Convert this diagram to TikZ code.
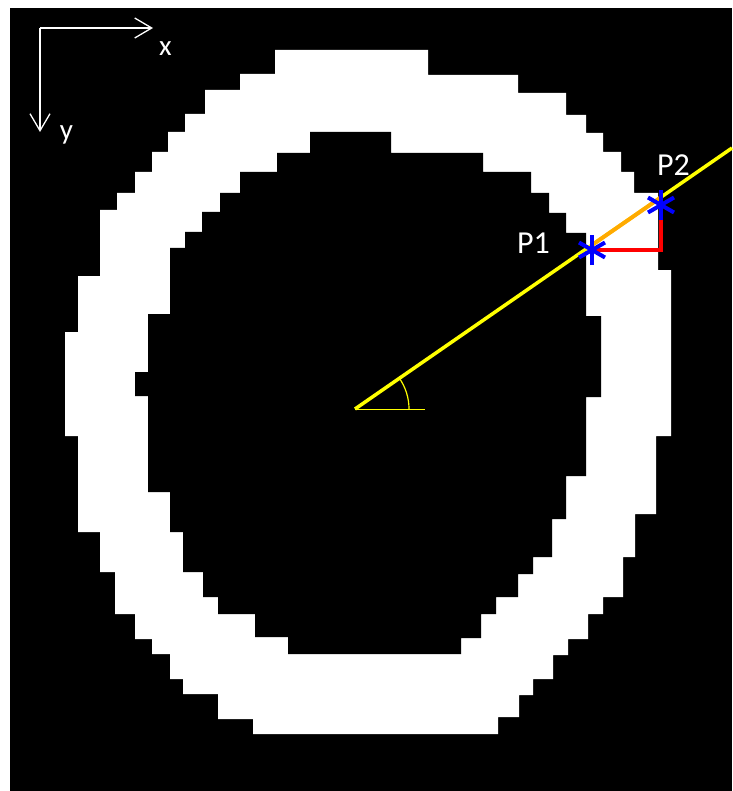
\documentclass[tikz,border=0pt]{standalone}
\usepackage{fontspec}
\setmainfont{Carlito}
\usetikzlibrary{arrows.meta,calc}
\definecolor{ptblue}{RGB}{0,0,255}
\definecolor{rayorange}{RGB}{255,170,0}
\definecolor{rayyellow}{RGB}{255,255,0}
\begin{document}
\begin{tikzpicture}[x=1pt,y=-1pt,
    lbl/.style={text=white,font=\fontsize{32}{38}\selectfont,inner sep=0pt,anchor=base},
    axlbl/.style={lbl,font=\fontsize{29}{34}\selectfont},
    axisline/.style={white,line width=1.3pt,-{Straight Barb[length=17pt,width=20pt,line width=1.3pt]}},
    starline/.style={ptblue,line width=4pt},
    ray/.style={rayyellow,line width=3.5pt},
  ]
    % 背景
    \useasboundingbox (0,0) rectangle (732,791);
    \fill[white] (0,0) rectangle (732,791);
    \fill[black] (10,8) rectangle (732,791);

    % 圆环 外边界
    \fill[white] (275,50) -- (428,50) -- (428,75) -- (518,75) -- (518,93) -- (566,93)
        -- (566,115) -- (586,115) -- (586,133) -- (603,133) -- (603,152) -- (621,152)
        -- (621,172) -- (634,172) -- (634,193) -- (658,193) -- (658,270) -- (671,270)
        -- (671,436) -- (656,436) -- (656,514) -- (635,514) -- (635,557) -- (623,557)
        -- (623,597) -- (603,597) -- (603,614) -- (588,614) -- (588,639) -- (568,639)
        -- (568,655) -- (553,655) -- (553,679) -- (533,679) -- (533,695) -- (519,695)
        -- (519,717) -- (498,717) -- (498,734) -- (253,734) -- (253,719) -- (218,719)
        -- (218,694) -- (183,694) -- (183,679) -- (170,679) -- (170,654) -- (152,654)
        -- (152,639) -- (135,639) -- (135,614) -- (115,614) -- (115,572) -- (100,572)
        -- (100,532) -- (78,532) -- (78,436) -- (65,436) -- (65,332) -- (78,332)
        -- (78,276) -- (100,276) -- (100,210) -- (117,210) -- (117,193) -- (135,193)
        -- (135,172) -- (152,172) -- (152,152) -- (168,152) -- (168,132) -- (185,132)
        -- (185,114) -- (205,114) -- (205,90) -- (240,90) -- (240,74) -- (275,74) -- cycle;

    % 圆环 内边界
    \fill[black] (310,132) -- (391,132) -- (391,153) -- (483,153) -- (483,172) -- (531,172)
        -- (531,193) -- (549,193) -- (549,213) -- (566,213) -- (566,233) -- (586,233)
        -- (586,316) -- (601,316) -- (601,397) -- (586,397) -- (586,476) -- (566,476)
        -- (566,519) -- (552,519) -- (552,557) -- (533,557) -- (533,574) -- (518,574)
        -- (518,597) -- (496,597) -- (496,614) -- (481,614) -- (481,638) -- (461,638)
        -- (461,654) -- (288,654) -- (288,637) -- (255,637) -- (255,614) -- (218,614)
        -- (218,597) -- (203,597) -- (203,572) -- (183,572) -- (183,532) -- (170,532)
        -- (170,492) -- (148,492) -- (148,396) -- (135,396) -- (135,372) -- (148,372)
        -- (148,314) -- (170,314) -- (170,248) -- (185,248) -- (185,232) -- (202,232)
        -- (202,212) -- (220,212) -- (220,193) -- (240,193) -- (240,172) -- (277,172)
        -- (277,153) -- (310,153) -- cycle;

    % 坐标方向
    \coordinate (o) at (40,28);
    \coordinate (xend) at (153,28);
    \coordinate (yend) at (40,132);
    \draw[axisline] (o) -- (xend);
    \draw[axisline] (o) -- (yend);
    \node[axlbl] (xlab) at (165.5,56) {x};
    \node[axlbl] (ylab) at (66.5,140) {y};

    % 射线与角度
    \coordinate (c) at (355,409);
    \coordinate (rend) at (732,148);
    \coordinate (hend) at (425,409);
    \draw[ray] (c) -- (rend);
    \draw[rayyellow,line width=1pt] (c) -- (hend);
    \draw[rayyellow,line width=1.2pt] ([xshift=54pt]c) arc[start angle=0,end angle=-35,radius=54];

    % P1, P2
    \coordinate (p1) at (592,250);
    \coordinate (p2) at (661,205);
    \coordinate (q1) at (592,245);
    \coordinate (q2) at (660,198);
    \draw[rayorange,line width=4pt] (q1) -- (q2);
    \draw[red,line width=4.5pt] (p1) -| (p2);
    \foreach \p in {p1,p2}
        \foreach \a in {90,30,-30}
            \draw[starline] ($(\p)+(\a:15)$) -- ($(\p)-(\a:15)$);
    \node[lbl] (p1lab) at (533.5,254) {P1};
    \node[lbl] (p2lab) at (673.5,176) {P2};
\end{tikzpicture}
\end{document}
